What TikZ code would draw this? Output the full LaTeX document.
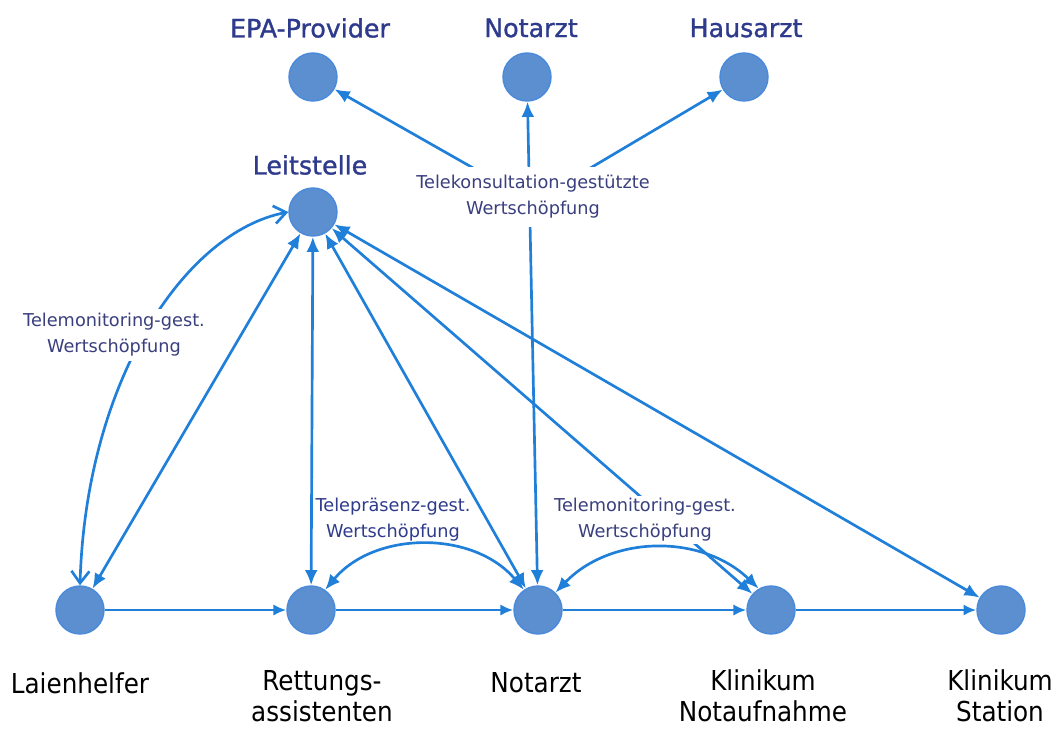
\documentclass[tikz,border=0pt]{standalone}
\usepackage{fontspec}
\setmainfont{DejaVu Sans}
\newfontfamily\condfont{DejaVu Sans Condensed}
\newfontfamily\titelfont[FakeBold=1.2]{DejaVu Sans}
\usetikzlibrary{arrows.meta}
\definecolor{kreisblau}{HTML}{5B8FD0}
\definecolor{randblau}{HTML}{4A8ADB}
\definecolor{linienblau}{HTML}{1F7FD9}
\definecolor{navy}{HTML}{2E3A8C}
\definecolor{markenblau}{HTML}{3A3F7E}

\begin{document}
\begin{tikzpicture}[x=0.025cm,y=-0.025cm,
  akteur/.style={circle,fill=kreisblau,draw=randblau,line width=1pt,minimum size=1.2cm,inner sep=0pt},
  fluss/.style={draw=linienblau,line width=1.9pt,-{Latex[length=3.2mm,width=2.8mm]}},
  beide/.style={draw=linienblau,line width=1.9pt,{Latex[length=3.8mm,width=3.2mm]}-{Latex[length=3.8mm,width=3.2mm]}},
  offen/.style={draw=linienblau,line width=1.9pt,{Straight Barb[length=3mm,width=4.5mm]}-{Straight Barb[length=3mm,width=4.5mm]}},
  titel/.style={font=\titelfont\fontsize{18}{20}\selectfont,text=navy},
  rolle/.style={font=\condfont\fontsize{19.5}{22}\selectfont,align=center},
  wert/.style={font=\fontsize{12.6}{18.5}\selectfont,text=markenblau,align=center,inner sep=2pt}]
  \useasboundingbox (0,0) rectangle (1057,729);

  % obere Reihe
  \node[akteur] (epa) at (313,77) {};
  \node[akteur] (notoben) at (527,77) {};
  \node[akteur] (haus) at (744,77) {};
  \node[akteur] (leit) at (313,212) {};
  \node[titel] (epaname) at (310,28) {EPA-Provider};
  \node[titel] (notobenname) at (531,28) {Notarzt};
  \node[titel] (hausname) at (746,28) {Hausarzt};
  \node[titel] (leitname) at (310,165) {Leitstelle};

  % Rettungskette
  \node[akteur] (laien) at (80,610) {};
  \node[akteur] (rett) at (311,610) {};
  \node[akteur] (notarzt) at (538,610) {};
  \node[akteur] (notauf) at (771,610) {};
  \node[akteur] (station) at (1001,610) {};
  \node[rolle] (laienname) at (80,683) {Laienhelfer};
  \node[rolle] (rettname) at (322,696) {Rettungs-\\assistenten};
  \node[rolle] (notarztname) at (536,683) {Notarzt};
  \node[rolle] (notaufname) at (763,696) {Klinikum\\Notaufnahme};
  \node[rolle] (stationname) at (1000,696) {Klinikum\\Station};

  \draw[fluss] (laien) -- (rett);
  \draw[fluss] (rett) -- (notarzt);
  \draw[fluss] (notarzt) -- (notauf);
  \draw[fluss] (notauf) -- (station);

  % Verbindungen zur Leitstelle
  \draw[beide] (laien) -- (leit);
  \draw[offen] (leit.west) .. controls (185,232) and (86,380) .. (laien.north);
  \draw[beide] (rett) -- (leit);
  \draw[beide] (notarzt) -- (leit);
  \draw[beide] (notauf) -- (leit);
  \draw[beide] (station) -- (leit);
  \node[wert,fill=white,inner sep=3pt] (monlinks) at (114,335) {Telemonitoring-gest.\\Wertschöpfung};

  % Telekonsultation
  \coordinate (konsmitte) at (533,202);
  \draw[beide] (notarzt) -- (notoben);
  \draw[fluss,-{Latex[length=3.8mm,width=3.2mm]}] (konsmitte) -- (epa);
  \draw[fluss,-{Latex[length=3.8mm,width=3.2mm]}] (konsmitte) -- (haus);
  \node[wert,fill=white,inner sep=6pt] (konsult) at (533,197) {Telekonsultation-gestützte\\Wertschöpfung};

  % Bögen unten
  \draw[beide] (rett.55) to[bend left=50] (notarzt.125);
  \draw[beide] (notarzt.45) to[bend left=45] (notauf.120);
  \node[wert,text=navy] (praesenz) at (393,520) {Telepräsenz-gest.\\Wertschöpfung};
  \node[wert,fill=white] (monrechts) at (645,520) {Telemonitoring-gest.\\Wertschöpfung};
\end{tikzpicture}
\end{document}
